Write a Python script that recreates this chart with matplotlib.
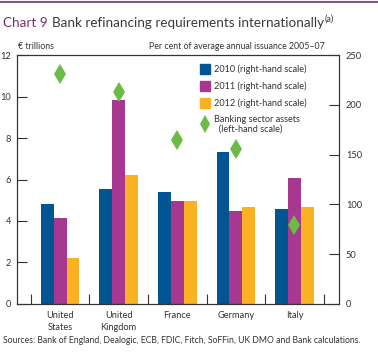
import numpy as np
import matplotlib
matplotlib.use("Agg")
import matplotlib.pyplot as plt
from matplotlib.patches import Patch
from matplotlib.lines import Line2D

plt.rcParams['font.family'] = ['Lato', 'DejaVu Sans']

# --- data ---
paises = ["United\nStates", "United\nKingdom", "France", "Germany", "Italy"]
req_2010 = [100, 115, 112, 153, 95]    # right-hand scale
req_2011 = [86, 205, 103, 93, 127]
req_2012 = [46, 130, 103, 97, 97]
ativos_bancarios = [11.1, 10.2, 7.9, 7.45, 3.8]   # € trillions, left-hand scale

AZUL = '#005592'
MAGENTA = '#A8378F'
LARANJA = '#FBB124'
VERDE = '#6CBB45'
ROXO = '#7B2D72'
CINZA = '#333333'

fig = plt.figure(figsize=(3.78, 3.55), dpi=100)
ax = fig.add_axes([0.0442, 0.1437, 0.8526, 0.7013])
ax2 = ax.twinx()
ax.set_zorder(ax2.get_zorder() + 1)
ax.patch.set_visible(False)

x = np.arange(len(paises))
w = 0.22
ax2.bar(x - w, req_2010, w, color=AZUL)
ax2.bar(x, req_2011, w, color=MAGENTA)
ax2.bar(x + w, req_2012, w, color=LARANJA)
ax.plot(x, ativos_bancarios, linestyle='none', marker='d', markersize=10,
        color=VERDE, markeredgewidth=0)

ax.set_xlim(-0.74, 4.76)
ax.set_ylim(0, 12)
ax2.set_ylim(0, 250)
ax.set_yticks(range(0, 13, 2))
ax2.set_yticks(range(0, 251, 50))

ax.set_xticks(x)
ax.set_xticklabels(paises, fontsize=6.7, color=CINZA, linespacing=1.5)
ax.set_xticks(np.arange(-0.5, 5, 1), minor=True)
ax.tick_params(axis='x', which='major', length=0, pad=5)
ax.tick_params(axis='x', which='minor', direction='in', length=7, width=0.8, color=CINZA)
ax.tick_params(axis='y', direction='in', length=7, width=0.8, color=CINZA,
               labelsize=6.7, labelcolor=CINZA, pad=4)
ax2.tick_params(axis='y', direction='in', length=7, width=0.8, color=CINZA,
                labelsize=6.7, labelcolor=CINZA, pad=5)
ax2.tick_params(axis='x', length=0)

for a in (ax, ax2):
    for s in a.spines.values():
        s.set_color(CINZA)
        s.set_linewidth(0.8)

# legenda
handles = [Patch(color=AZUL), Patch(color=MAGENTA), Patch(color=LARANJA),
           Line2D([], [], linestyle='none', marker='d', markersize=9,
                  color=VERDE, markeredgewidth=0)]
labels = ['2010 (right-hand scale)', '2011 (right-hand scale)',
          '2012 (right-hand scale)', 'Banking sector assets\n  (left-hand scale)']
leg = ax.legend(handles, labels, loc='upper left', bbox_to_anchor=(0.552, 0.985),
                frameon=False, fontsize=6.6, handlelength=1.05, handleheight=1.25,
                handletextpad=0.5, labelspacing=0.75, borderaxespad=0.2)
for t in leg.get_texts():
    t.set_color(CINZA)

# titulos e textos
fig.add_artist(Line2D([0, 1], [0.995, 0.995], color=ROXO, linewidth=1.2))
t1 = fig.text(0.008, 0.925, 'Chart 9', fontsize=9.7, color=ROXO, va='baseline')
fig.canvas.draw()
bb = t1.get_window_extent()
x1 = bb.x1 / fig.bbox.width + 0.012
t2 = fig.text(x1, 0.925, 'Bank refinancing requirements internationally',
              fontsize=9.7, color='#3a3a3a', va='baseline')
bb2 = t2.get_window_extent()
fig.text(bb2.x1 / fig.bbox.width + 0.002, 0.94, '(a)', fontsize=6.5,
         color='#3a3a3a', va='baseline')

fig.text(0.048, 0.862, '€ trillions', fontsize=6.3, color=CINZA, va='baseline')
fig.text(0.86, 0.862, 'Per cent of average annual issuance 2005–07', fontsize=6.3,
         color=CINZA, va='baseline', ha='right')
fig.text(0.008, 0.035, 'Sources: Bank of England, Dealogic, ECB, FDIC, Fitch, SoFFin, '
         'UK DMO and Bank calculations.', fontsize=6.2, color=CINZA, va='baseline')

fig.savefig('out.png', dpi=100)
